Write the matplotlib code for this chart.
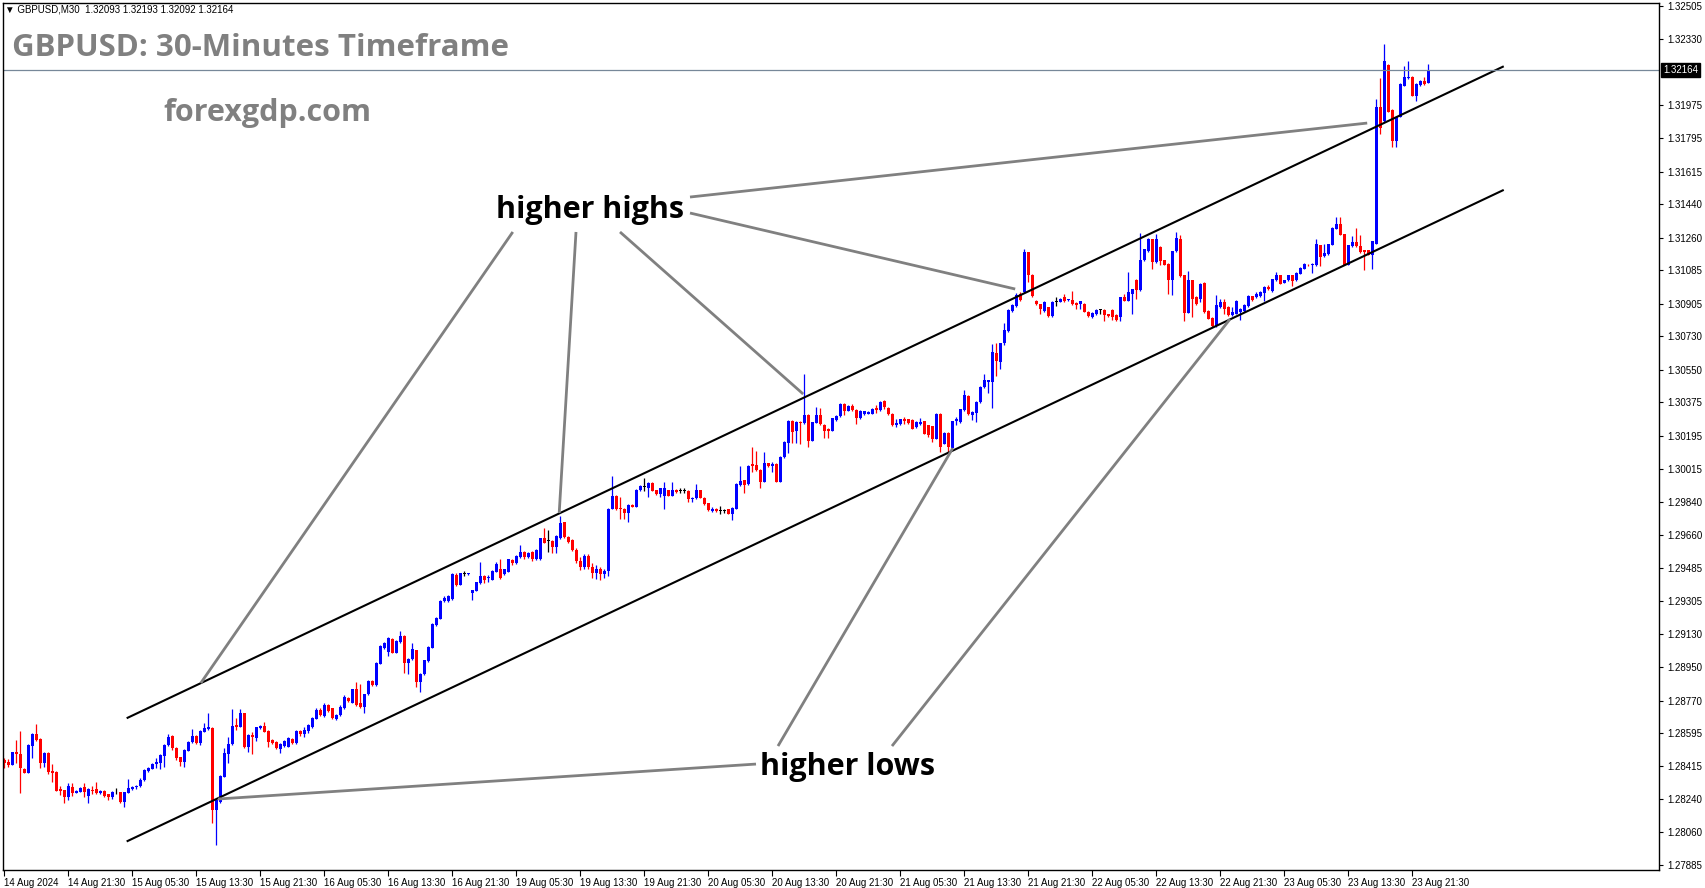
import numpy as np
import matplotlib.pyplot as plt

# GBPUSD M30 candles, 14 Aug 13:30 .. 23 Aug 2024
opens = [
    1.28450, 1.28440, 1.28423, 1.28493, 1.28482, 1.28401, 1.28382, 1.28525, 1.28590, 1.28563,
    1.28436, 1.28490, 1.28393, 1.28387, 1.28292, 1.28288, 1.28253, 1.28303, 1.28274, 1.28280,
    1.28306, 1.28256, 1.28288, 1.28292, 1.28270, 1.28285, 1.28265, 1.28249, 1.28276, 1.28276,
    1.28226, 1.28274, 1.28294, 1.28303, 1.28310, 1.28342, 1.28392, 1.28401, 1.28428, 1.28436,
    1.28472, 1.28531, 1.28579, 1.28513, 1.28464, 1.28441, 1.28500, 1.28545, 1.28579, 1.28540,
    1.28603, 1.28615, 1.28621, 1.28181, 1.28226, 1.28360, 1.28482, 1.28536, 1.28638, 1.28630,
    1.28701, 1.28518, 1.28585, 1.28567, 1.28622, 1.28633, 1.28608, 1.28558, 1.28547, 1.28507,
    1.28525, 1.28522, 1.28565, 1.28542, 1.28605, 1.28588, 1.28605, 1.28628, 1.28673, 1.28721,
    1.28685, 1.28745, 1.28727, 1.28673, 1.28691, 1.28727, 1.28784, 1.28759, 1.28831, 1.28757,
    1.28736, 1.28804, 1.28876, 1.28852, 1.28969, 1.29050, 1.29032, 1.29100, 1.29026, 1.29086,
    1.29118, 1.28972, 1.28992, 1.29041, 1.28867, 1.28911, 1.28981, 1.29055, 1.29175, 1.29211,
    1.29305, 1.29305, 1.29315, 1.29445, 1.29391, 1.29452, 1.29448, 1.29346, 1.29360, 1.29400,
    1.29439, 1.29427, 1.29421, 1.29463, 1.29480, 1.29450, 1.29463, 1.29525, 1.29511, 1.29540,
    1.29570, 1.29540, 1.29570, 1.29529, 1.29529, 1.29642, 1.29629, 1.29629, 1.29597, 1.29642,
    1.29728, 1.29651, 1.29633, 1.29579, 1.29520, 1.29490, 1.29545, 1.29490, 1.29455, 1.29480,
    1.29450, 1.29465, 1.29803, 1.29870, 1.29803, 1.29803, 1.29780, 1.29821, 1.29812, 1.29902,
    1.29920, 1.29916, 1.29941, 1.29902, 1.29880, 1.29871, 1.29902, 1.29871, 1.29905, 1.29898,
    1.29898, 1.29897, 1.29852, 1.29857, 1.29902, 1.29862, 1.29830, 1.29791, 1.29803, 1.29789,
    1.29791, 1.29798, 1.29776, 1.29803, 1.29929, 1.29956, 1.29934, 1.30042, 1.30037, 1.30010,
    1.29947, 1.30046, 1.30031, 1.30042, 1.29947, 1.30078, 1.30153, 1.30273, 1.30221, 1.30270,
    1.30261, 1.30306, 1.30168, 1.30265, 1.30306, 1.30252, 1.30230, 1.30221, 1.30279, 1.30300,
    1.30365, 1.30329, 1.30354, 1.30333, 1.30288, 1.30309, 1.30314, 1.30314, 1.30344, 1.30332,
    1.30380, 1.30346, 1.30314, 1.30255, 1.30256, 1.30283, 1.30282, 1.30278, 1.30239, 1.30256,
    1.30273, 1.30251, 1.30246, 1.30179, 1.30314, 1.30152, 1.30212, 1.30131, 1.30273, 1.30269,
    1.30332, 1.30409, 1.30305, 1.30317, 1.30377, 1.30458, 1.30484, 1.30484, 1.30641, 1.30592,
    1.30691, 1.30759, 1.30867, 1.30892, 1.30957, 1.30969, 1.31181, 1.31062, 1.30921, 1.30903,
    1.30867, 1.30885, 1.30840, 1.30915, 1.30915, 1.30939, 1.30924, 1.30924, 1.30910, 1.30906,
    1.30906, 1.30861, 1.30831, 1.30849, 1.30870, 1.30870, 1.30847, 1.30870, 1.30843, 1.30834,
    1.30939, 1.30921, 1.30957, 1.31032, 1.30978, 1.31140, 1.31187, 1.31251, 1.31129, 1.31210,
    1.31138, 1.31120, 1.31031, 1.31187, 1.31251, 1.31058, 1.30857, 1.31031, 1.30941, 1.30932,
    1.31018, 1.30864, 1.30828, 1.30783, 1.30887, 1.30914, 1.30887, 1.30842, 1.30851, 1.30860,
    1.30864, 1.30892, 1.30945, 1.30941, 1.30946, 1.30964, 1.30995, 1.30973, 1.31031, 1.31058,
    1.31018, 1.31031, 1.31058, 1.31031, 1.31067, 1.31094, 1.31115, 1.31111, 1.31111, 1.31219,
    1.31160, 1.31171, 1.31223, 1.31309, 1.31332, 1.31278, 1.31115, 1.31216, 1.31237, 1.31216,
    1.31192, 1.31192, 1.31169, 1.31228, 1.31964, 1.31887, 1.32188, 1.31946, 1.31779, 1.31910,
    1.32077, 1.32117, 1.32126, 1.32023, 1.32081, 1.32102, 1.32093,
]
highs = [
    1.28460, 1.28453, 1.28495, 1.28558, 1.28606, 1.28405, 1.28536, 1.28597, 1.28642, 1.28568,
    1.28493, 1.28493, 1.28428, 1.28390, 1.28310, 1.28290, 1.28328, 1.28328, 1.28288, 1.28306,
    1.28328, 1.28297, 1.28310, 1.28333, 1.28288, 1.28288, 1.28267, 1.28283, 1.28297, 1.28280,
    1.28280, 1.28346, 1.28312, 1.28317, 1.28351, 1.28400, 1.28414, 1.28432, 1.28459, 1.28481,
    1.28536, 1.28588, 1.28585, 1.28518, 1.28468, 1.28507, 1.28551, 1.28615, 1.28583, 1.28612,
    1.28647, 1.28705, 1.28626, 1.28238, 1.28369, 1.28513, 1.28572, 1.28723, 1.28674, 1.28723,
    1.28705, 1.28590, 1.28603, 1.28630, 1.28637, 1.28656, 1.28612, 1.28561, 1.28551, 1.28540,
    1.28558, 1.28572, 1.28569, 1.28610, 1.28610, 1.28628, 1.28646, 1.28682, 1.28727, 1.28728,
    1.28754, 1.28749, 1.28732, 1.28700, 1.28745, 1.28798, 1.28789, 1.28834, 1.28870, 1.28861,
    1.28807, 1.28879, 1.28879, 1.28978, 1.29068, 1.29087, 1.29113, 1.29104, 1.29098, 1.29143,
    1.29121, 1.28999, 1.29080, 1.29044, 1.28919, 1.28990, 1.29062, 1.29188, 1.29220, 1.29310,
    1.29332, 1.29337, 1.29454, 1.29457, 1.29457, 1.29468, 1.29457, 1.29367, 1.29409, 1.29516,
    1.29443, 1.29445, 1.29472, 1.29513, 1.29534, 1.29480, 1.29534, 1.29529, 1.29552, 1.29606,
    1.29574, 1.29568, 1.29574, 1.29583, 1.29646, 1.29696, 1.29690, 1.29633, 1.29658, 1.29762,
    1.29732, 1.29655, 1.29637, 1.29590, 1.29540, 1.29560, 1.29560, 1.29510, 1.29500, 1.29490,
    1.29480, 1.29805, 1.29977, 1.29875, 1.29866, 1.29807, 1.29825, 1.29825, 1.29909, 1.29927,
    1.29965, 1.29945, 1.29945, 1.29905, 1.29914, 1.29943, 1.29905, 1.29943, 1.29909, 1.29911,
    1.29914, 1.29900, 1.29866, 1.29934, 1.29905, 1.29866, 1.29834, 1.29812, 1.29807, 1.29818,
    1.29803, 1.29801, 1.29810, 1.29938, 1.30031, 1.29959, 1.30035, 1.30132, 1.30114, 1.30013,
    1.30105, 1.30049, 1.30055, 1.30046, 1.30085, 1.30166, 1.30279, 1.30277, 1.30273, 1.30273,
    1.30527, 1.30309, 1.30270, 1.30351, 1.30345, 1.30256, 1.30234, 1.30291, 1.30306, 1.30369,
    1.30369, 1.30358, 1.30365, 1.30336, 1.30333, 1.30330, 1.30328, 1.30344, 1.30359, 1.30380,
    1.30386, 1.30350, 1.30317, 1.30282, 1.30287, 1.30296, 1.30285, 1.30282, 1.30273, 1.30292,
    1.30276, 1.30255, 1.30249, 1.30317, 1.30317, 1.30215, 1.30215, 1.30276, 1.30296, 1.30341,
    1.30440, 1.30413, 1.30326, 1.30380, 1.30461, 1.30526, 1.30497, 1.30687, 1.30691, 1.30694,
    1.30799, 1.30874, 1.30901, 1.30960, 1.30969, 1.31197, 1.31184, 1.31066, 1.30924, 1.30906,
    1.30919, 1.30888, 1.30919, 1.30942, 1.30937, 1.30957, 1.30933, 1.30973, 1.30913, 1.30922,
    1.30910, 1.30865, 1.30860, 1.30874, 1.30879, 1.30874, 1.30851, 1.30874, 1.30847, 1.30942,
    1.30957, 1.31077, 1.30985, 1.31036, 1.31287, 1.31201, 1.31259, 1.31255, 1.31282, 1.31214,
    1.31142, 1.31124, 1.31190, 1.31291, 1.31273, 1.31061, 1.31079, 1.31034, 1.30945, 1.31016,
    1.31022, 1.30869, 1.30831, 1.30950, 1.30932, 1.30932, 1.30891, 1.30887, 1.30923, 1.30882,
    1.30903, 1.30950, 1.30948, 1.30968, 1.30971, 1.30998, 1.31007, 1.31040, 1.31076, 1.31061,
    1.31034, 1.31061, 1.31061, 1.31076, 1.31101, 1.31124, 1.31119, 1.31124, 1.31255, 1.31223,
    1.31228, 1.31228, 1.31316, 1.31372, 1.31372, 1.31282, 1.31223, 1.31269, 1.31312, 1.31273,
    1.31196, 1.31196, 1.31244, 1.32009, 1.32117, 1.32300, 1.32197, 1.31950, 1.31914, 1.32090,
    1.32185, 1.32210, 1.32129, 1.32090, 1.32108, 1.32126, 1.32193,
]
lows = [
    1.28405, 1.28414, 1.28423, 1.28432, 1.28270, 1.28378, 1.28378, 1.28459, 1.28554, 1.28409,
    1.28411, 1.28373, 1.28333, 1.28283, 1.28260, 1.28217, 1.28235, 1.28256, 1.28270, 1.28276,
    1.28253, 1.28220, 1.28267, 1.28269, 1.28269, 1.28253, 1.28235, 1.28238, 1.28267, 1.28217,
    1.28199, 1.28270, 1.28288, 1.28296, 1.28306, 1.28339, 1.28387, 1.28400, 1.28405, 1.28400,
    1.28411, 1.28525, 1.28504, 1.28450, 1.28418, 1.28411, 1.28497, 1.28540, 1.28536, 1.28531,
    1.28601, 1.28612, 1.28109, 1.27992, 1.28220, 1.28357, 1.28432, 1.28533, 1.28612, 1.28626,
    1.28515, 1.28495, 1.28482, 1.28554, 1.28619, 1.28599, 1.28518, 1.28536, 1.28510, 1.28489,
    1.28518, 1.28518, 1.28535, 1.28538, 1.28579, 1.28574, 1.28596, 1.28624, 1.28671, 1.28685,
    1.28682, 1.28709, 1.28673, 1.28667, 1.28688, 1.28725, 1.28761, 1.28756, 1.28741, 1.28732,
    1.28703, 1.28798, 1.28847, 1.28849, 1.28966, 1.29046, 1.29010, 1.29023, 1.29023, 1.29082,
    1.28919, 1.28911, 1.28990, 1.28843, 1.28816, 1.28908, 1.28978, 1.29052, 1.29172, 1.29208,
    1.29301, 1.29302, 1.29312, 1.29387, 1.29389, 1.29439, 1.29443, 1.29310, 1.29357, 1.29396,
    1.29400, 1.29409, 1.29418, 1.29459, 1.29423, 1.29445, 1.29459, 1.29498, 1.29507, 1.29536,
    1.29534, 1.29536, 1.29522, 1.29525, 1.29525, 1.29615, 1.29570, 1.29565, 1.29565, 1.29638,
    1.29642, 1.29615, 1.29574, 1.29510, 1.29470, 1.29480, 1.29480, 1.29430, 1.29425, 1.29420,
    1.29430, 1.29440, 1.29800, 1.29794, 1.29749, 1.29749, 1.29731, 1.29809, 1.29809, 1.29898,
    1.29898, 1.29866, 1.29895, 1.29877, 1.29866, 1.29803, 1.29868, 1.29868, 1.29889, 1.29884,
    1.29888, 1.29839, 1.29839, 1.29853, 1.29859, 1.29821, 1.29791, 1.29785, 1.29785, 1.29776,
    1.29780, 1.29773, 1.29740, 1.29800, 1.29925, 1.29884, 1.29929, 1.30001, 1.30006, 1.29916,
    1.29943, 1.30028, 1.30001, 1.29943, 1.29943, 1.30074, 1.30103, 1.30153, 1.30157, 1.30150,
    1.30257, 1.30132, 1.30164, 1.30261, 1.30252, 1.30184, 1.30180, 1.30218, 1.30275, 1.30297,
    1.30306, 1.30326, 1.30329, 1.30256, 1.30284, 1.30305, 1.30309, 1.30310, 1.30319, 1.30328,
    1.30341, 1.30305, 1.30247, 1.30239, 1.30253, 1.30260, 1.30256, 1.30230, 1.30235, 1.30253,
    1.30203, 1.30188, 1.30161, 1.30176, 1.30108, 1.30149, 1.30102, 1.30116, 1.30251, 1.30265,
    1.30328, 1.30305, 1.30278, 1.30269, 1.30373, 1.30454, 1.30422, 1.30346, 1.30517, 1.30556,
    1.30685, 1.30755, 1.30863, 1.30888, 1.30921, 1.30965, 1.31023, 1.30942, 1.30897, 1.30849,
    1.30863, 1.30836, 1.30836, 1.30892, 1.30912, 1.30915, 1.30921, 1.30899, 1.30879, 1.30879,
    1.30858, 1.30834, 1.30827, 1.30845, 1.30852, 1.30813, 1.30834, 1.30820, 1.30811, 1.30811,
    1.30917, 1.30917, 1.30852, 1.30933, 1.30974, 1.31136, 1.31183, 1.31094, 1.31126, 1.31111,
    1.31111, 1.30959, 1.30950, 1.31183, 1.31050, 1.30810, 1.30853, 1.30833, 1.30896, 1.30914,
    1.30857, 1.30821, 1.30779, 1.30779, 1.30884, 1.30851, 1.30839, 1.30839, 1.30848, 1.30815,
    1.30860, 1.30889, 1.30919, 1.30937, 1.30943, 1.30918, 1.30979, 1.30970, 1.31027, 1.31009,
    1.31015, 1.31027, 1.31000, 1.31027, 1.31063, 1.31090, 1.31108, 1.31072, 1.31108, 1.31108,
    1.31156, 1.31167, 1.31219, 1.31305, 1.31273, 1.31111, 1.31111, 1.31212, 1.31212, 1.31180,
    1.31085, 1.31165, 1.31094, 1.31225, 1.31820, 1.31883, 1.31934, 1.31749, 1.31749, 1.31907,
    1.32074, 1.32113, 1.32020, 1.31996, 1.32077, 1.32083, 1.32092,
]
closes = [
    1.28435, 1.28423, 1.28491, 1.28482, 1.28405, 1.28382, 1.28531, 1.28590, 1.28558, 1.28436,
    1.28490, 1.28387, 1.28382, 1.28285, 1.28285, 1.28253, 1.28310, 1.28274, 1.28283, 1.28301,
    1.28280, 1.28294, 1.28285, 1.28270, 1.28285, 1.28256, 1.28249, 1.28280, 1.28276, 1.28226,
    1.28276, 1.28297, 1.28306, 1.28312, 1.28342, 1.28396, 1.28409, 1.28428, 1.28441, 1.28477,
    1.28531, 1.28576, 1.28513, 1.28463, 1.28441, 1.28504, 1.28547, 1.28579, 1.28540, 1.28608,
    1.28621, 1.28626, 1.28181, 1.28235, 1.28364, 1.28486, 1.28536, 1.28633, 1.28630, 1.28701,
    1.28518, 1.28585, 1.28572, 1.28626, 1.28633, 1.28603, 1.28549, 1.28540, 1.28515, 1.28536,
    1.28554, 1.28567, 1.28542, 1.28605, 1.28592, 1.28613, 1.28637, 1.28676, 1.28721, 1.28691,
    1.28745, 1.28714, 1.28678, 1.28694, 1.28736, 1.28789, 1.28766, 1.28831, 1.28745, 1.28736,
    1.28804, 1.28876, 1.28852, 1.28974, 1.29064, 1.29082, 1.29104, 1.29026, 1.29089, 1.29118,
    1.28972, 1.28996, 1.29046, 1.28867, 1.28915, 1.28987, 1.29059, 1.29184, 1.29215, 1.29305,
    1.29319, 1.29332, 1.29448, 1.29391, 1.29454, 1.29452, 1.29454, 1.29364, 1.29405, 1.29439,
    1.29418, 1.29432, 1.29468, 1.29504, 1.29427, 1.29475, 1.29529, 1.29511, 1.29547, 1.29570,
    1.29540, 1.29565, 1.29529, 1.29579, 1.29642, 1.29619, 1.29629, 1.29597, 1.29655, 1.29723,
    1.29651, 1.29624, 1.29579, 1.29520, 1.29490, 1.29545, 1.29490, 1.29455, 1.29480, 1.29450,
    1.29465, 1.29803, 1.29870, 1.29800, 1.29800, 1.29780, 1.29821, 1.29812, 1.29905, 1.29923,
    1.29920, 1.29941, 1.29898, 1.29880, 1.29911, 1.29911, 1.29871, 1.29905, 1.29893, 1.29898,
    1.29898, 1.29852, 1.29862, 1.29902, 1.29862, 1.29825, 1.29794, 1.29803, 1.29791, 1.29789,
    1.29791, 1.29776, 1.29807, 1.29934, 1.29952, 1.29932, 1.30031, 1.30031, 1.30010, 1.29947,
    1.30046, 1.30031, 1.30042, 1.29947, 1.30081, 1.30162, 1.30275, 1.30216, 1.30270, 1.30261,
    1.30306, 1.30168, 1.30266, 1.30306, 1.30256, 1.30221, 1.30220, 1.30288, 1.30302, 1.30365,
    1.30329, 1.30354, 1.30333, 1.30288, 1.30329, 1.30326, 1.30323, 1.30341, 1.30332, 1.30377,
    1.30350, 1.30309, 1.30251, 1.30264, 1.30283, 1.30274, 1.30264, 1.30233, 1.30269, 1.30269,
    1.30206, 1.30201, 1.30179, 1.30314, 1.30134, 1.30212, 1.30134, 1.30273, 1.30287, 1.30337,
    1.30413, 1.30309, 1.30323, 1.30377, 1.30458, 1.30493, 1.30493, 1.30646, 1.30597, 1.30691,
    1.30763, 1.30870, 1.30897, 1.30951, 1.30924, 1.31181, 1.31059, 1.30946, 1.30901, 1.30874,
    1.30915, 1.30840, 1.30915, 1.30915, 1.30933, 1.30919, 1.30930, 1.30903, 1.30897, 1.30919,
    1.30861, 1.30838, 1.30856, 1.30870, 1.30870, 1.30843, 1.30838, 1.30834, 1.30820, 1.30939,
    1.30921, 1.30969, 1.30982, 1.30978, 1.31140, 1.31197, 1.31255, 1.31129, 1.31251, 1.31133,
    1.31115, 1.31031, 1.31187, 1.31259, 1.31054, 1.30857, 1.31031, 1.30932, 1.30905, 1.31013,
    1.30860, 1.30824, 1.30783, 1.30896, 1.30914, 1.30875, 1.30842, 1.30860, 1.30918, 1.30878,
    1.30900, 1.30946, 1.30923, 1.30959, 1.30968, 1.30995, 1.30982, 1.31036, 1.31058, 1.31013,
    1.31031, 1.31058, 1.31025, 1.31072, 1.31097, 1.31120, 1.31111, 1.31120, 1.31225, 1.31156,
    1.31180, 1.31225, 1.31312, 1.31332, 1.31277, 1.31115, 1.31219, 1.31237, 1.31216, 1.31183,
    1.31183, 1.31169, 1.31241, 1.31964, 1.31851, 1.32210, 1.31937, 1.31779, 1.31910, 1.32086,
    1.32126, 1.32126, 1.32023, 1.32086, 1.32104, 1.32086, 1.32164,
]

time_labels = ["14 Aug 2024", "14 Aug 21:30", "15 Aug 05:30", "15 Aug 13:30", "15 Aug 21:30",
               "16 Aug 05:30", "16 Aug 13:30", "16 Aug 21:30", "19 Aug 05:30", "19 Aug 13:30",
               "19 Aug 21:30", "20 Aug 05:30", "20 Aug 13:30", "20 Aug 21:30", "21 Aug 05:30",
               "21 Aug 13:30", "21 Aug 21:30", "22 Aug 05:30", "22 Aug 13:30", "22 Aug 21:30",
               "23 Aug 05:30", "23 Aug 13:30", "23 Aug 21:30"]
price_ticks = [1.27885, 1.28060, 1.28240, 1.28415, 1.28595, 1.28770, 1.28950, 1.29130,
               1.29305, 1.29485, 1.29660, 1.29840, 1.30015, 1.30195, 1.30375, 1.30550,
               1.30730, 1.30905, 1.31085, 1.31260, 1.31440, 1.31615, 1.31795, 1.31975,
               1.32330, 1.32505]
last_price = 1.32164

# channel lines (bar index, price)
upper_channel = ([30.9, 374.7], [1.28677, 1.32180])
lower_channel = ([30.9, 374.7], [1.28014, 1.31515])

# pointer lines: (start bar, start price, end bar, end price)
highs_pointers = [(49.2, 1.28864, 127.2, 1.31291),
                  (138.8, 1.29779, 143.0, 1.31291),
                  (199.8, 1.30419, 154.0, 1.31291),
                  (252.8, 1.30984, 171.5, 1.31393),
                  (340.8, 1.31877, 171.5, 1.31479)]
lows_pointers = [(53.5, 1.28240, 188.0, 1.28428),
                 (237.2, 1.30128, 193.5, 1.28525),
                 (306.5, 1.30822, 222.0, 1.28525)]

o = np.array(opens)
h = np.array(highs)
l = np.array(lows)
c = np.array(closes)
x = np.arange(len(c))

colors = np.where(c > o, '#0000ff', np.where(c < o, '#ff0000', '#000000'))

fig = plt.figure(figsize=(17.05, 8.88), dpi=100)
ax = fig.add_axes([3 / 1705, 18 / 888, 1656 / 1705, 867 / 888])

ax.vlines(x, l, h, colors=colors, linewidth=0.9)
body = np.maximum(np.abs(c - o), 0.00004)
ax.bar(x, body, bottom=np.minimum(o, c), width=0.75, color=colors, linewidth=0)

ax.plot(*upper_channel, color='black', lw=1.5)
ax.plot(*lower_channel, color='black', lw=1.5)

for x0, y0, x1, y1 in highs_pointers + lows_pointers:
    ax.plot([x0, x1], [y0, y1], color='#808080', lw=2.0, solid_capstyle='butt')

ax.axhline(last_price, color='#778899', lw=0.9)

ax.text(146.5, 1.31411, 'higher highs', ha='center', va='center', fontsize=22,
        fontweight='bold', family='Open Sans', color='black')
ax.text(211, 1.28412, 'higher lows', ha='center', va='center', fontsize=22,
        fontweight='bold', family='Open Sans', color='black')

ax.set_xlim(-0.25, 413.75)
ax.set_ylim(1.27858, 1.32523)

ax.set_xticks(np.arange(len(time_labels)) * 16)
ax.set_xticklabels(time_labels, ha='left', fontsize=7, family='Liberation Sans')
ax.yaxis.tick_right()
ax.set_yticks(price_ticks)
ax.set_yticklabels([f'{p:.5f}' for p in price_ticks], fontsize=7, family='Liberation Sans')
ax.tick_params(axis='x', length=4, pad=2, width=0.8)
ax.tick_params(axis='y', length=3, pad=3, width=0.8)
for s in ax.spines.values():
    s.set_color('black')
    s.set_linewidth(1.0)

ax.annotate(f'{last_price:.5f}', xy=(1, last_price), xycoords=('axes fraction', 'data'),
            xytext=(3, 0), textcoords='offset points', ha='left', va='center',
            fontsize=7, family='Liberation Sans', color='white',
            bbox=dict(boxstyle='square,pad=0.2', fc='black', ec='black'))

fig.text(5 / 1705, 1 - 9 / 888, '\u25bc GBPUSD,M30  1.32093 1.32193 1.32092 1.32164',
         fontsize=7, family=['Liberation Sans', 'DejaVu Sans'], va='center', ha='left')
fig.text(12 / 1705, 1 - 48 / 888, 'GBPUSD: 30-Minutes Timeframe', fontsize=22.5,
         fontweight='bold', family='Open Sans', color='#808080', va='center', ha='left')
fig.text(163 / 1705, 1 - 113 / 888, 'forexgdp.com', fontsize=22,
         fontweight='bold', family='Open Sans', color='#808080', va='center', ha='left')

fig.savefig('out.png', dpi=100)
